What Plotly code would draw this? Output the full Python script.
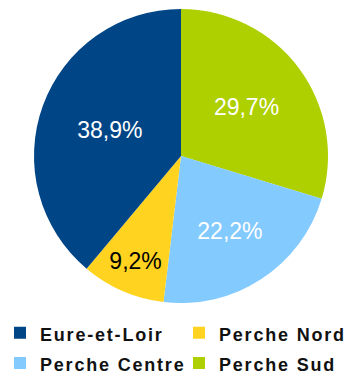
import plotly.graph_objects as go

# Share of each area (percent), listed clockwise from 12 o'clock
areas = ["Perche Sud", "Perche Centre", "Perche Nord", "Eure-et-Loir"]
shares = [29.7, 22.2, 9.2, 38.9]
colors = ["#aecf00", "#83caff", "#ffd320", "#004586"]
text_colors = ["white", "white", "black", "white"]

labels_txt = [f"{v:.1f}".replace(".", ",") + "%" for v in shares]

# legend entries: 18px bold, slightly spaced lettering
legend_names = [
    f'<span style="font-size:18px;letter-spacing:1.8px">{a}</span>' for a in areas
]

W, H = 354, 377
cx, cy, r = 181, 156, 147

fig = go.Figure(
    go.Pie(
        labels=legend_names,
        values=shares,
        sort=False,
        direction="clockwise",
        rotation=0,
        marker=dict(colors=colors, line=dict(width=0)),
        text=labels_txt,
        textinfo="text",
        textposition="inside",
        insidetextorientation="horizontal",
        insidetextfont=dict(family="Liberation Sans", size=23, color=text_colors),
        hoverinfo="label+percent",
        domain=dict(x=[(cx - r) / W, (cx + r) / W], y=[1 - (cy + r) / H, 1 - (cy - r) / H]),
    )
)

fig.update_layout(
    width=W,
    height=H,
    margin=dict(l=0, r=0, t=0, b=0, autoexpand=False),
    paper_bgcolor="white",
    plot_bgcolor="white",
    showlegend=True,
    legend=dict(
        orientation="h",
        x=0,
        xanchor="left",
        y=1 - 312.5 / H,
        yanchor="top",
        entrywidth=134,
        # the base size sets the row pitch; entry text is sized by its span
        font=dict(family="Liberation Sans", size=21, color="#111111", weight="bold"),
        traceorder="reversed",
    ),
)

fig.write_html("out.html")
